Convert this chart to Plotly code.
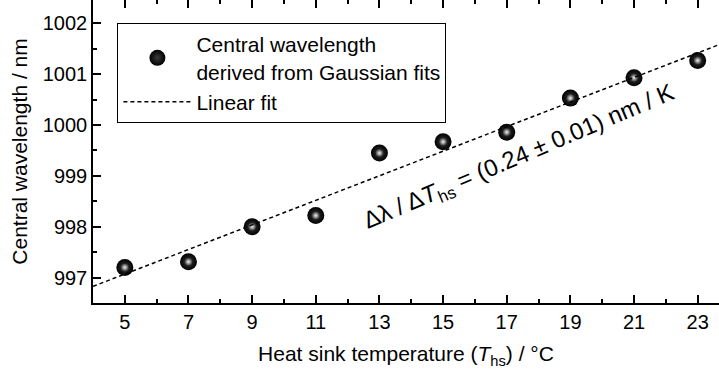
import numpy as np
import plotly.graph_objects as go

# Data
temperature = [5, 7, 9, 11, 13, 15, 17, 19, 21, 23]
wavelength = [997.20, 997.31, 998.00, 998.22, 999.45, 999.67, 999.86, 1000.53, 1000.93, 1001.27]
x_range = [4.0, 23.67]
y_range = [996.5, 1002.46]

slope, intercept = np.polyfit(temperature, wavelength, 1)
fit_x = np.array(x_range)
fit_y = intercept + slope * fit_x

FONT = "Liberation Sans, Arial, sans-serif"

fig = go.Figure()

# In plotly radial gradients, gradient.color is the centre colour, marker.color the edge
fig.add_trace(go.Scatter(
    x=temperature, y=wavelength, mode="markers",
    name="Central wavelength<br>derived from Gaussian fits",
    marker=dict(size=17, color="#000000", line=dict(width=0),
                gradient=dict(type="radial", color="#3a3a3a")),
))
fig.add_trace(go.Scatter(
    x=temperature, y=wavelength, mode="markers", showlegend=False, hoverinfo="skip",
    marker=dict(size=8, color="#2e2e2e", line=dict(width=0),
                gradient=dict(type="radial", color="#f4f4f4")),
))
fig.add_trace(go.Scatter(
    x=fit_x, y=fit_y, mode="lines", name="Linear fit", xaxis="x2",
    line=dict(color="black", width=1.5, dash="4px,3px"),
))

axis_common = dict(
    showgrid=False, zeroline=False, ticks="inside", tickcolor="black",
    ticklen=8, tickwidth=1.5,
    tickfont=dict(family=FONT, size=20, color="black"),
)

fig.update_layout(
    width=719, height=377,
    margin=dict(l=92.5, r=0, t=0, b=74),
    plot_bgcolor="white", paper_bgcolor="white",
    font=dict(family=FONT, size=21, color="black"),
    xaxis=dict(
        **axis_common, range=x_range, tick0=5, dtick=2,
        showline=True, linecolor="black", linewidth=1.5,
        minor=dict(dtick=1, tick0=4, ticks="inside", ticklen=4, tickwidth=1.5, tickcolor="black"),
        title=dict(text="Heat sink temperature (<i>T</i><sub>hs</sub>) / °C",
                   font=dict(family=FONT, size=21), standoff=15),
    ),
    xaxis2=dict(
        **axis_common, range=x_range, tick0=5, dtick=2, matches="x",
        overlaying="x", side="top", anchor="y", showline=False, showticklabels=False,
        minor=dict(dtick=1, tick0=4, ticks="inside", ticklen=4, tickwidth=1.5, tickcolor="black"),
    ),
    yaxis=dict(
        **axis_common, range=y_range, tick0=997, dtick=1,
        showline=True, linecolor="black", linewidth=1.5,
        minor=dict(dtick=0.5, tick0=997, ticks="inside", ticklen=4, tickwidth=1.5, tickcolor="black"),
        title=dict(text="Central wavelength / nm", font=dict(family=FONT, size=21), standoff=9),
    ),
    legend=dict(
        x=0.039, y=0.924, xanchor="left", yanchor="top",
        bordercolor="black", borderwidth=1, bgcolor="white",
        font=dict(family=FONT, size=21), itemwidth=68,
        tracegroupgap=0,
    ),
    showlegend=True,
)

fig.add_annotation(
    x=17.4, y=999.36, xref="x", yref="y", showarrow=False, textangle=-23,
    text="Δλ / Δ<i>T</i><sub>hs</sub> = (0.24 ± 0.01) nm / K",
    font=dict(family=FONT, size=24, color="black"),
)

fig.write_html("out.html")
